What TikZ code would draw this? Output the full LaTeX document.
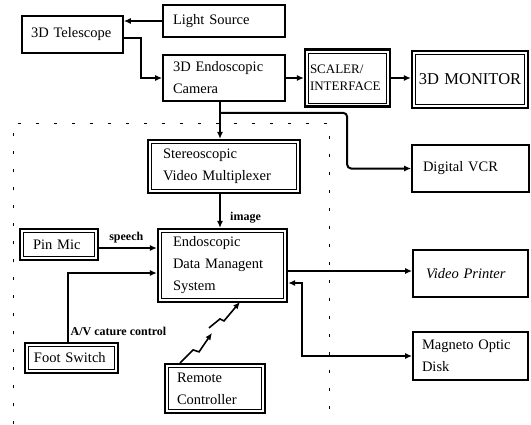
\documentclass[tikz,border=0pt]{standalone}
\usepackage{fontspec}
\setmainfont{Liberation Serif}
\usetikzlibrary{arrows.meta}

\tikzset{
  blk/.style={draw, line width=1.7pt, align=left, inner ysep=2pt,
    font=\fontsize{14.5}{22}\selectfont},
  dblk/.style={blk, line width=2.2pt,
    path picture={\draw[line width=0.8pt]
      ([shift={(3.5pt,-3.5pt)}]path picture bounding box.north west) rectangle
      ([shift={(-3.5pt,3.5pt)}]path picture bounding box.south east);}},
  arr/.style={line width=2pt, -{Latex[length=7pt,width=6pt]}},
  lbl/.style={font=\bfseries\fontsize{12}{14}\selectfont, inner sep=1pt},
}

\begin{document}
\begin{tikzpicture}[x=1pt, y=-1pt]
    \useasboundingbox (0,0) rectangle (531,424);
    % dotted frame round the control unit
    \draw[line width=1pt, dash pattern=on 3pt off 15pt]
      (13,424) -- (13,123) -- (329,123) -- (329,410);
    % plain blocks
    \foreach \nm/\x/\y/\h/\sx/\tw/\txt in {
      light/224/21/32pt/10pt/102pt/{Light Source},
      tele/72.5/34.5/37pt/9pt/83pt/{3D Telescope},
      camera/224/78/46pt/10pt/102pt/{3D Endoscopic\\Camera},
      vcr/470.5/168.5/47pt/11pt/95pt/{Digital VCR},
      printer/470.5/273.5/47pt/13pt/89pt/{\itshape Video Printer},
      mo/470.5/356/48pt/9pt/97pt/{Magneto Optic\\Disk}}
    {
      \node[blk, inner xsep=\sx, text width=\tw, minimum height=\h] (\nm) at (\x,\y) {\txt};
    }
    % double-framed blocks
    \foreach \nm/\x/\y/\h/\sx/\tw/\txt in {
      mux/224/166.5/53pt/15pt/122pt/{Stereoscopic\\Video Multiplexer},
      edms/222.5/265.5/73pt/15pt/99pt/{Endoscopic\\Data Managent\\System},
      pinmic/59/244.5/31pt/13pt/52pt/{Pin Mic},
      foot/71.5/358/30pt/9pt/75pt/{Foot Switch},
      remote/215/388.5/49pt/12pt/76pt/{Remote\\Controller}}
    {
      \node[dblk, inner xsep=\sx, text width=\tw, minimum height=\h] (\nm) at (\x,\y) {\txt};
    }
    \node[dblk, inner xsep=5pt, text width=75pt, minimum height=57pt,
      font=\fontsize{13}{17}\selectfont] (scaler) at (347.5,78) {SCALER/\\INTERFACE};
    \node[dblk, inner xsep=6pt, text width=104pt, minimum height=57pt, align=center,
      font=\fontsize{16.5}{20}\selectfont] (monitor) at (470,79.5) {3D MONITOR};

    % optics and camera chain
    \draw[arr] (light.west) -- (light.west -| tele.east);
    \draw[arr] ([yshift=-3.5pt]tele.east) -- ++(17,0) |- (camera.west);
    \draw[arr] (camera.east) -- (scaler.west);
    \draw[arr] (scaler.east) -- (scaler.east -| monitor.west);
    \coordinate (camout) at ([xshift=-4pt]camera.south);
    \coordinate (split) at ([yshift=-11pt]camout);
    \draw[arr] (camout) -- (camout |- mux.north);
    \draw[arr, rounded corners=4pt] (split) -| ([xshift=-64pt]vcr.west) -- (vcr.west);

    % inputs of the data management system
    \coordinate (muxout) at ([xshift=-4pt]mux.south);
    \draw[arr] (muxout) -- (muxout |- edms.north);
    \node[lbl, anchor=base west] (imagelbl) at ([shift={(5pt,-26pt)}]mux.south) {image};
    \coordinate (micout) at ([yshift=-3.5pt]pinmic.east);
    \draw[arr] (micout) -- (micout -| edms.west);
    \node[lbl, anchor=base west] (speechlbl) at ([shift={(9pt,8pt)}]micout) {speech};
    \draw[arr] ([xshift=-3.5pt]foot.north) |- ([yshift=-7.5pt]edms.west);
    \node[lbl, anchor=base west] (avlbl) at ([shift={(-2pt,6pt)}]foot.north) {A/V cature control};
    % wireless link
    \draw[arr, line width=1.6pt] ([xshift=-35pt]remote.north)
      -- ++(13,-13) -- ++(6,2) -- ++(13,-19);
    \draw[arr, line width=1.6pt] ([shift={(-6pt,35pt)}]remote.north)
      -- ++(11,-9) -- ++(4,2) -- ++(16,-19);

    % outputs
    \coordinate (prtout) at ([yshift=-5.5pt]edms.east);
    \draw[arr] (prtout) -- (prtout -| printer.west);
    \draw[arr, {Latex[length=7pt,width=6pt]}-{Latex[length=7pt,width=6pt]}]
      ([yshift=-17.5pt]edms.east) -- ++(14,0) |- (mo.west);
\end{tikzpicture}
\end{document}
